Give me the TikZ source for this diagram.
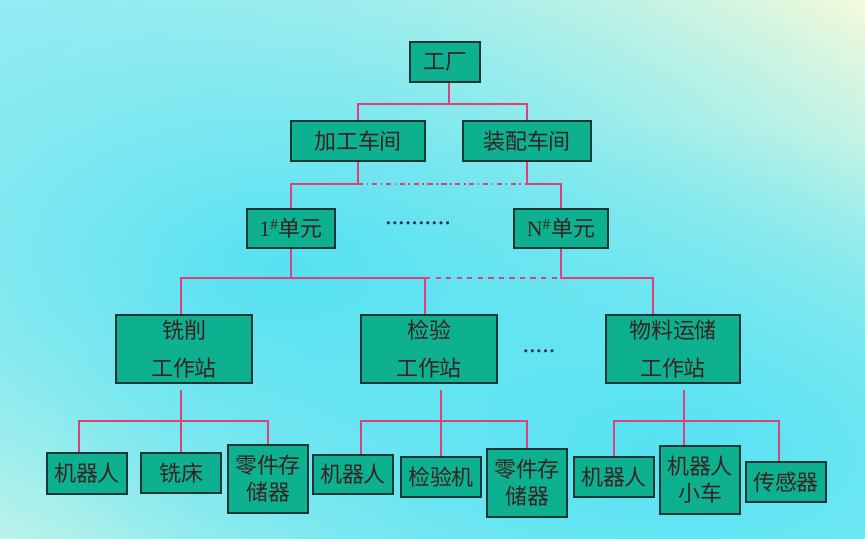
\documentclass[tikz,border=0pt]{standalone}
\usepackage{fontspec}
\setmainfont{Liberation Serif}
\newfontfamily\cjk{Noto Sans CJK SC}
\usetikzlibrary{fadings, shadings}

\tikzfading[name=glow, inner color=transparent!0, outer color=transparent!100]

\begin{document}
\begin{tikzpicture}[x=0.02cm, y=-0.02cm]

% -------------------------------------------------------
% Layout parameters (1 unit = 1 px of the slide)
% -------------------------------------------------------
\def\px{0.02cm}
\def\yBusA{104}   % factory -> workshops
\def\yBusB{184}   % workshops -> cells
\def\yBusC{278}   % cells -> stations
\def\yBusD{421}   % stations -> devices

% colors
\definecolor{bgUL}{HTML}{A8EFF4}
\definecolor{bgUR}{HTML}{F3FADB}
\definecolor{bgLL}{HTML}{DDF8E6}
\definecolor{bgLR}{HTML}{8BEEF6}
\definecolor{bgcyan}{HTML}{55E2F3}
\definecolor{boxfill}{HTML}{0DB08F}
\definecolor{boxline}{HTML}{1C3636}
\definecolor{txt}{HTML}{3A2222}
\definecolor{linkc}{HTML}{E0407A}
\definecolor{dotc}{HTML}{25305A}

\tikzstyle{box} = [draw=boxline, fill=boxfill, line width=1.1pt, inner sep=0pt, align=center, text=txt, font=\fontsize{12.5}{15.3}\selectfont\cjk];
\tikzstyle{link} = [linkc, line width=0.9pt];
\tikzstyle{dots} = [text=dotc, font=\fontsize{15}{15}\selectfont];

%%%%%% BACKGROUND
\useasboundingbox (0,0) rectangle (865,538);
\begin{scope}
\clip (0,0) rectangle (865,538);
\shade[upper left=bgUL, upper right=bgUR, lower left=bgLL, lower right=bgLR] (0,0) rectangle (865,538);
\fill[bgcyan, path fading=glow] (290,270) ellipse [x radius=14.4cm, y radius=8.4cm];
\fill[bgcyan, path fading=glow] (660,450) ellipse [x radius=12cm, y radius=6.4cm];
\end{scope}

%%%%%% LEVELS
% factory
\node[box, minimum width=70*\px, minimum height=40*\px] (factory) at (445,62) {工厂};

% workshops
\node[box, minimum width=134*\px, minimum height=40*\px] (ws1) at (358,141) {加工车间};
\node[box, minimum width=128*\px, minimum height=40*\px] (ws2) at (527,141) {装配车间};

% cells
\node[box, minimum width=88*\px, minimum height=39*\px] (cell1) at (291,228.5) {{\rmfamily 1\textsuperscript{\#}}单元};
\node[box, minimum width=94*\px, minimum height=39*\px] (cellN) at (561,228.5) {{\rmfamily N\textsuperscript{\#}}单元};
\node[dots] (gap1) at (418,223) {..........};

% stations
\node[box, minimum width=136*\px, minimum height=68*\px] (st1) at (184,349) {铣削\\[6.7pt]工作站};
\node[box, minimum width=136*\px, minimum height=68*\px] (st2) at (429,349) {检验\\[6.7pt]工作站};
\node[box, minimum width=134*\px, minimum height=68*\px] (st3) at (673,349) {物料运储\\[6.7pt]工作站};
\node[dots] (gap2) at (539,351) {.....};

% devices, milling station
\node[box, minimum width=80*\px, minimum height=41*\px] (r1) at (87,473.5) {机器人};
\node[box, minimum width=80*\px, minimum height=40*\px] (m1) at (181,473) {铣床};
\node[box, minimum width=80*\px, minimum height=68*\px] (p1) at (268,479) {零件存\\储器};

% devices, inspection station
\node[box, minimum width=80*\px, minimum height=39*\px] (r2) at (353,474.5) {机器人};
\node[box, minimum width=80*\px, minimum height=40*\px] (q2) at (441,477) {检验机};
\node[box, minimum width=80*\px, minimum height=68*\px] (p2) at (527,483) {零件存\\储器};

% devices, material station
\node[box, minimum width=80*\px, minimum height=40*\px] (r3) at (614,477) {机器人};
\node[box, minimum width=80*\px, minimum height=68*\px] (v3) at (700,480) {机器人\\小车};
\node[box, minimum width=80*\px, minimum height=40*\px] (s3) at (786,482) {传感器};

%%%%%% CONNECTIONS
\coordinate (busA) at (0,\yBusA);
\coordinate (busB) at (0,\yBusB);
\coordinate (busC) at (0,\yBusC);
\coordinate (busD) at (0,\yBusD);

% factory -> workshops
\draw[link] ([xshift=4*\px]factory.south) -- ([xshift=4*\px]factory.south |- busA);
\draw[link] (ws1.north) -- (ws1.north |- busA) -- (ws2.north |- busA) -- (ws2.north);

% workshops -> cells
\draw[link] (ws1.south) |- (cell1.north |- busB) -- (cell1.north);
\draw[link] (ws2.south) |- (cellN.north |- busB) -- (cellN.north);
\draw[link, dash dot] (ws1.south |- busB) -- (ws2.south |- busB);

% cells -> stations
\coordinate (in1) at ([xshift=-3*\px]st1.north);
\coordinate (in2) at ([xshift=-4*\px]st2.north);
\coordinate (in3) at ([xshift=-20*\px]st3.north);
\draw[link] (cell1.south) -- (cell1.south |- busC);
\draw[link] (in1) |- (in2 |- busC) -- (in2);
\draw[link] (cellN.south) |- (in3 |- busC) -- (in3);
\draw[link, dashed] (in2 |- busC) -- (cellN.south |- busC);

% stations -> devices
\coordinate (o1) at ([xshift=-3*\px, yshift=-6*\px]st1.south);
\coordinate (o2) at ([xshift=12*\px, yshift=-6*\px]st2.south);
\coordinate (o3) at ([xshift=11*\px, yshift=-6*\px]st3.south);
\coordinate (in9) at ([xshift=-7*\px]s3.north);

\draw[link] (o1) -- (o1 |- m1.north);
\draw[link] ([xshift=-8*\px]r1.north) |- (p1.north |- busD) -- (p1.north);

\draw[link] (o2) -- (o2 |- q2.north);
\draw[link] ([xshift=8*\px]r2.north) |- (p2.north |- busD) -- (p2.north);

\draw[link] (o3) -- (o3 |- v3.north);
\draw[link] (r3.north) |- (in9 |- busD) -- (in9);

\end{tikzpicture}
\end{document}
